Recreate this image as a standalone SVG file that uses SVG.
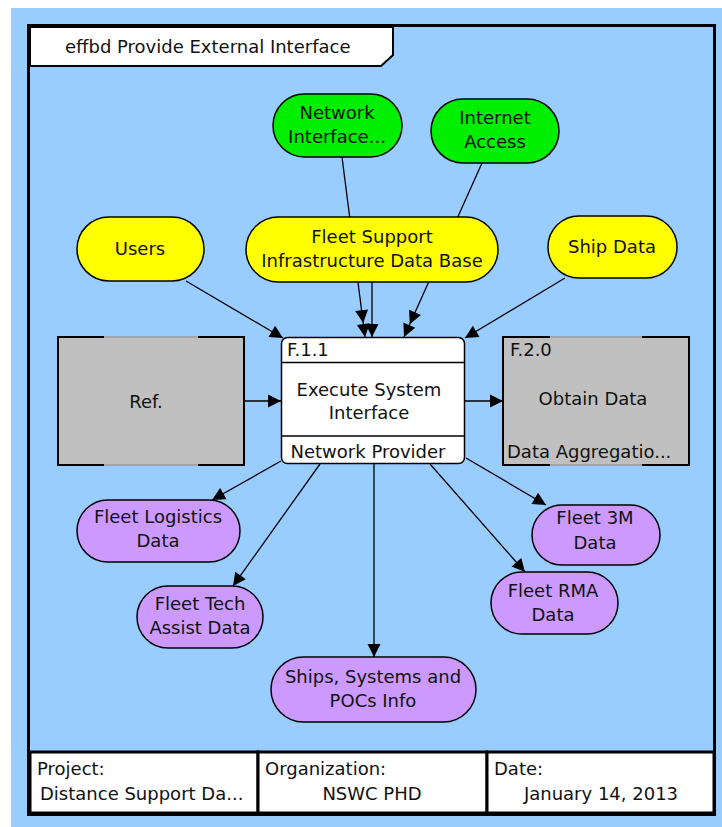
<svg xmlns="http://www.w3.org/2000/svg" width="722" height="827" viewBox="0 0 722 827">
  <style>
    text { font-family: "DejaVu Sans", "Liberation Sans", sans-serif; font-size: 18px; fill: #111; }
    .c { text-anchor: middle; }
    .frame { fill: #99CCFF; stroke: #000; stroke-width: 3; }
    .cell { fill: #fff; stroke: #000; stroke-width: 3; }
    .item { stroke: #000; stroke-width: 1.5; }
    .env { fill: #FFFF00; }
    .res { fill: #00EE00; }
    .out { fill: #CC99FF; }
    .fn { fill: #fff; stroke: #000; stroke-width: 1.5; }
    .ref { fill: #C0C0C0; stroke: #9a9a9a; stroke-width: 1.5; }
    .bracket { fill: none; stroke: #000; stroke-width: 2; }
    .edge { stroke: #000; stroke-width: 1.3; fill: none; }
  </style>
  <defs>
    <marker id="arrow" viewBox="-14 -7 15 14" markerWidth="15" markerHeight="14" refX="0" refY="0" orient="auto" markerUnits="userSpaceOnUse">
      <path d="M0,0 L-13,-6.5 L-13,6.5 Z" fill="#000"/>
    </marker>
    <marker id="arrow2" viewBox="-28 -7 29 14" markerWidth="29" markerHeight="14" refX="0" refY="0" orient="auto" markerUnits="userSpaceOnUse">
      <path d="M0,0 L-13,-6.5 L-13,6.5 Z M-14,0 L-27,-6.5 L-27,6.5 Z" fill="#000"/>
    </marker>
  </defs>

  <!-- page background -->
  <rect x="0" y="0" width="722" height="827" fill="#fff"/>
  <rect x="11" y="8" width="711" height="819" fill="#99CCFF"/>
  <rect class="frame" x="28.5" y="25.5" width="686" height="789"/>

  <!-- diagram title tab -->
  <g id="title">
    <polygon points="30,27 393,27 393,55 381,66 30,66" fill="#fff" stroke="#000" stroke-width="2"/>
    <text x="65" y="53">effbd Provide External Interface</text>
  </g>

  <!-- connectors -->
  <g id="connectors">
    <line class="edge" x1="342" y1="157" x2="365" y2="337" marker-end="url(#arrow2)"/>
    <line class="edge" x1="482" y1="163" x2="404" y2="337" marker-end="url(#arrow2)"/>
    <line class="edge" x1="372" y1="282" x2="372" y2="337" marker-end="url(#arrow)"/>
    <line class="edge" x1="186" y1="281" x2="283" y2="338" marker-end="url(#arrow)"/>
    <line class="edge" x1="565" y1="278" x2="465" y2="338" marker-end="url(#arrow)"/>
    <line class="edge" x1="244" y1="401" x2="281" y2="401" marker-end="url(#arrow)"/>
    <line class="edge" x1="465" y1="401" x2="503" y2="401" marker-end="url(#arrow)"/>
    <line class="edge" x1="281" y1="461" x2="212" y2="500" marker-end="url(#arrow)"/>
    <line class="edge" x1="320" y1="464" x2="233" y2="586" marker-end="url(#arrow)"/>
    <line class="edge" x1="374" y1="464" x2="374" y2="657" marker-end="url(#arrow)"/>
    <line class="edge" x1="430" y1="464" x2="525" y2="572" marker-end="url(#arrow)"/>
    <line class="edge" x1="466" y1="458" x2="546" y2="505" marker-end="url(#arrow)"/>
  </g>

  <!-- resources -->
  <g id="network-interface">
    <rect class="item res" x="273" y="94" width="129" height="63" rx="31.5"/>
    <text class="c" x="337" y="119">Network</text>
    <text class="c" x="337" y="143">Interface...</text>
  </g>
  <g id="internet-access">
    <rect class="item res" x="431" y="99" width="128" height="64" rx="32"/>
    <text class="c" x="495" y="124">Internet</text>
    <text class="c" x="495" y="148">Access</text>
  </g>

  <!-- input items -->
  <g id="users">
    <rect class="item env" x="77" y="217" width="127" height="64" rx="32"/>
    <text class="c" x="140" y="255">Users</text>
  </g>
  <g id="fleet-support-db">
    <rect class="item env" x="246" y="217" width="252" height="65" rx="32.5"/>
    <text class="c" x="372" y="243">Fleet Support</text>
    <text class="c" x="372" y="267">Infrastructure Data Base</text>
  </g>
  <g id="ship-data">
    <rect class="item env" x="548" y="216" width="129" height="62" rx="31"/>
    <text class="c" x="612" y="253">Ship Data</text>
  </g>

  <!-- reference blocks -->
  <g id="ref-in">
    <rect class="ref" x="58" y="337" width="186" height="128"/>
    <path class="bracket" d="M104,337 H58 V465 H104 M198,337 H244 V465 H198"/>
    <text class="c" x="146" y="408">Ref.</text>
  </g>
  <g id="f-2-0">
    <rect class="ref" x="503" y="337" width="186" height="128"/>
    <path class="bracket" d="M550,337 H503 V465 H550 M642,337 H689 V465 H642"/>
    <text x="510" y="356">F.2.0</text>
    <text class="c" x="593" y="405">Obtain Data</text>
    <text x="507" y="458">Data Aggregatio...</text>
  </g>

  <!-- function -->
  <g id="f-1-1">
    <rect class="fn" x="281.5" y="337.5" width="183" height="126" rx="6"/>
    <line class="edge" x1="282" y1="362.5" x2="464" y2="362.5" stroke-width="1.5"/>
    <line class="edge" x1="282" y1="436" x2="464" y2="436" stroke-width="1.5"/>
    <text x="287" y="356">F.1.1</text>
    <text class="c" x="369" y="396">Execute System</text>
    <text class="c" x="369" y="419">Interface</text>
    <text class="c" x="368" y="458">Network Provider</text>
  </g>

  <!-- output items -->
  <g id="fleet-logistics">
    <rect class="item out" x="77" y="500" width="163" height="62" rx="31"/>
    <text class="c" x="158" y="523">Fleet Logistics</text>
    <text class="c" x="158" y="547">Data</text>
  </g>
  <g id="fleet-tech">
    <rect class="item out" x="137" y="586" width="126" height="62" rx="31"/>
    <text class="c" x="200" y="610">Fleet Tech</text>
    <text class="c" x="200" y="634">Assist Data</text>
  </g>
  <g id="ships-systems">
    <rect class="item out" x="271" y="657" width="205" height="65" rx="32.5"/>
    <text class="c" x="373" y="683">Ships, Systems and</text>
    <text class="c" x="373" y="707">POCs Info</text>
  </g>
  <g id="fleet-rma">
    <rect class="item out" x="491" y="572" width="127" height="62" rx="31"/>
    <text class="c" x="553" y="597">Fleet RMA</text>
    <text class="c" x="553" y="621">Data</text>
  </g>
  <g id="fleet-3m">
    <rect class="item out" x="532" y="505" width="128" height="60" rx="30"/>
    <text class="c" x="595" y="524">Fleet 3M</text>
    <text class="c" x="595" y="549">Data</text>
  </g>

  <!-- footer -->
  <g id="footer">
    <rect class="cell" x="30" y="752" width="228" height="61"/>
    <rect class="cell" x="258" y="752" width="229" height="61"/>
    <rect class="cell" x="487" y="752" width="227" height="61"/>
    <text x="37" y="775">Project:</text>
    <text x="40" y="800">Distance Support Da...</text>
    <text x="265" y="775">Organization:</text>
    <text class="c" x="372" y="800">NSWC PHD</text>
    <text x="494" y="775">Date:</text>
    <text class="c" x="601" y="800">January 14, 2013</text>
  </g>
</svg>
